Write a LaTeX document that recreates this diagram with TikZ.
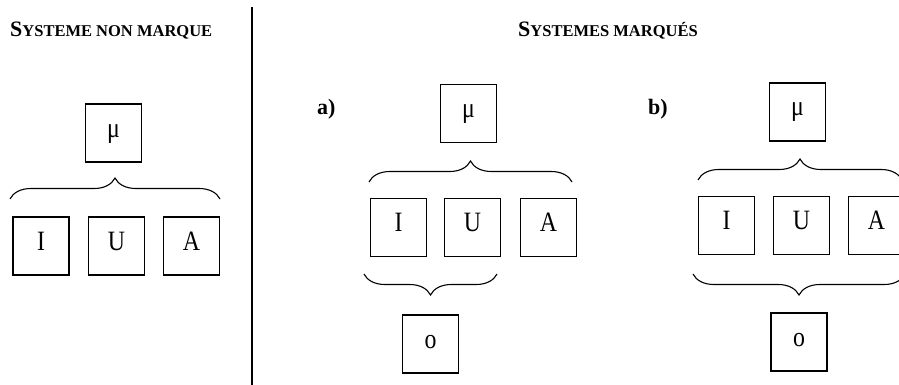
\documentclass[tikz,border=0pt]{standalone}
\usepackage{fontspec}
\setmainfont{Liberation Serif}
\newfontfamily\boxfont[FakeStretch=0.85]{Liberation Serif}
\usetikzlibrary{decorations.pathreplacing}
\tikzset{
  box/.style={draw, line width=1.1pt, minimum width=56pt, minimum height=58pt,
    inner sep=0pt, text height=20pt, text depth=12pt,
    font=\boxfont\fontsize{28}{28}\selectfont},
  brc/.style={decorate, decoration={brace, amplitude=21pt}, line width=1.1pt},
  ttl/.style={anchor=base west, inner sep=0pt, font=\bfseries},
  lbl/.style={anchor=base west, inner sep=0pt, font=\bfseries\fontsize{22}{22}\selectfont},
  sep/.style={line width=1.1pt}
}
\newcommand{\bigS}{\fontsize{22}{22}\selectfont}
\newcommand{\smS}{\fontsize{16.5}{16.5}\selectfont}
\begin{document}
\begin{tikzpicture}[x=1pt,y=1pt]
\path[use as bounding box] (0,0) rectangle (899,-385);
\clip (0,0) rectangle (899,-385);
% titles
\node[ttl] (t1) at (10,-37) {\bigS S\smS YSTEME NON MARQUE};
\node[ttl] (t2) at (518,-37) {\bigS S\smS YSTEMES MARQUÉS};
% separator
\coordinate (vt) at (252,-7);
\coordinate (vb) at (252,-385);
\draw[sep] (vt) -- (vb);
% left panel
\node[box] (mu1) at (113.5,-133) {μ};
\node[box] (I1) at (41,-246) {I};
\node[box] (U1) at (116.5,-246) {U};
\node[box] (A1) at (191.5,-246) {A};
\coordinate (b1l) at (10,-199);
\coordinate (b1r) at (220,-199);
\draw[brc] (b1l) -- (b1r);
% middle panel
\node[lbl] (la) at (317,-115) {a)};
\node[box] (mu2) at (468.5,-113.5) {μ};
\node[box] (I2) at (398.5,-227.5) {I};
\node[box] (U2) at (472.5,-227.5) {U};
\node[box] (A2) at (548.5,-227.5) {A};
\node[box] (o2) at (430.5,-344) {o};
\coordinate (b2l) at (369,-182);
\coordinate (b2r) at (572,-182);
\draw[brc] (b2l) -- (b2r);
\coordinate (c2l) at (364,-274);
\coordinate (c2r) at (497,-274);
\draw[brc] (c2r) -- (c2l);
% right panel
\node[lbl] (lb) at (648,-115) {b)};
\node[box] (mu3) at (797.5,-112) {μ};
\node[box] (I3) at (726.5,-225.5) {I};
\node[box] (U3) at (801.5,-225.5) {U};
\node[box] (A3) at (876.5,-225.5) {A};
\node[box] (o3) at (799,-342) {o};
\coordinate (b3l) at (698,-180);
\coordinate (b3r) at (902,-180);
\draw[brc] (b3l) -- (b3r);
\coordinate (c3l) at (693,-274);
\coordinate (c3r) at (905,-274);
\draw[brc] (c3r) -- (c3l);
\end{tikzpicture}
\end{document}
